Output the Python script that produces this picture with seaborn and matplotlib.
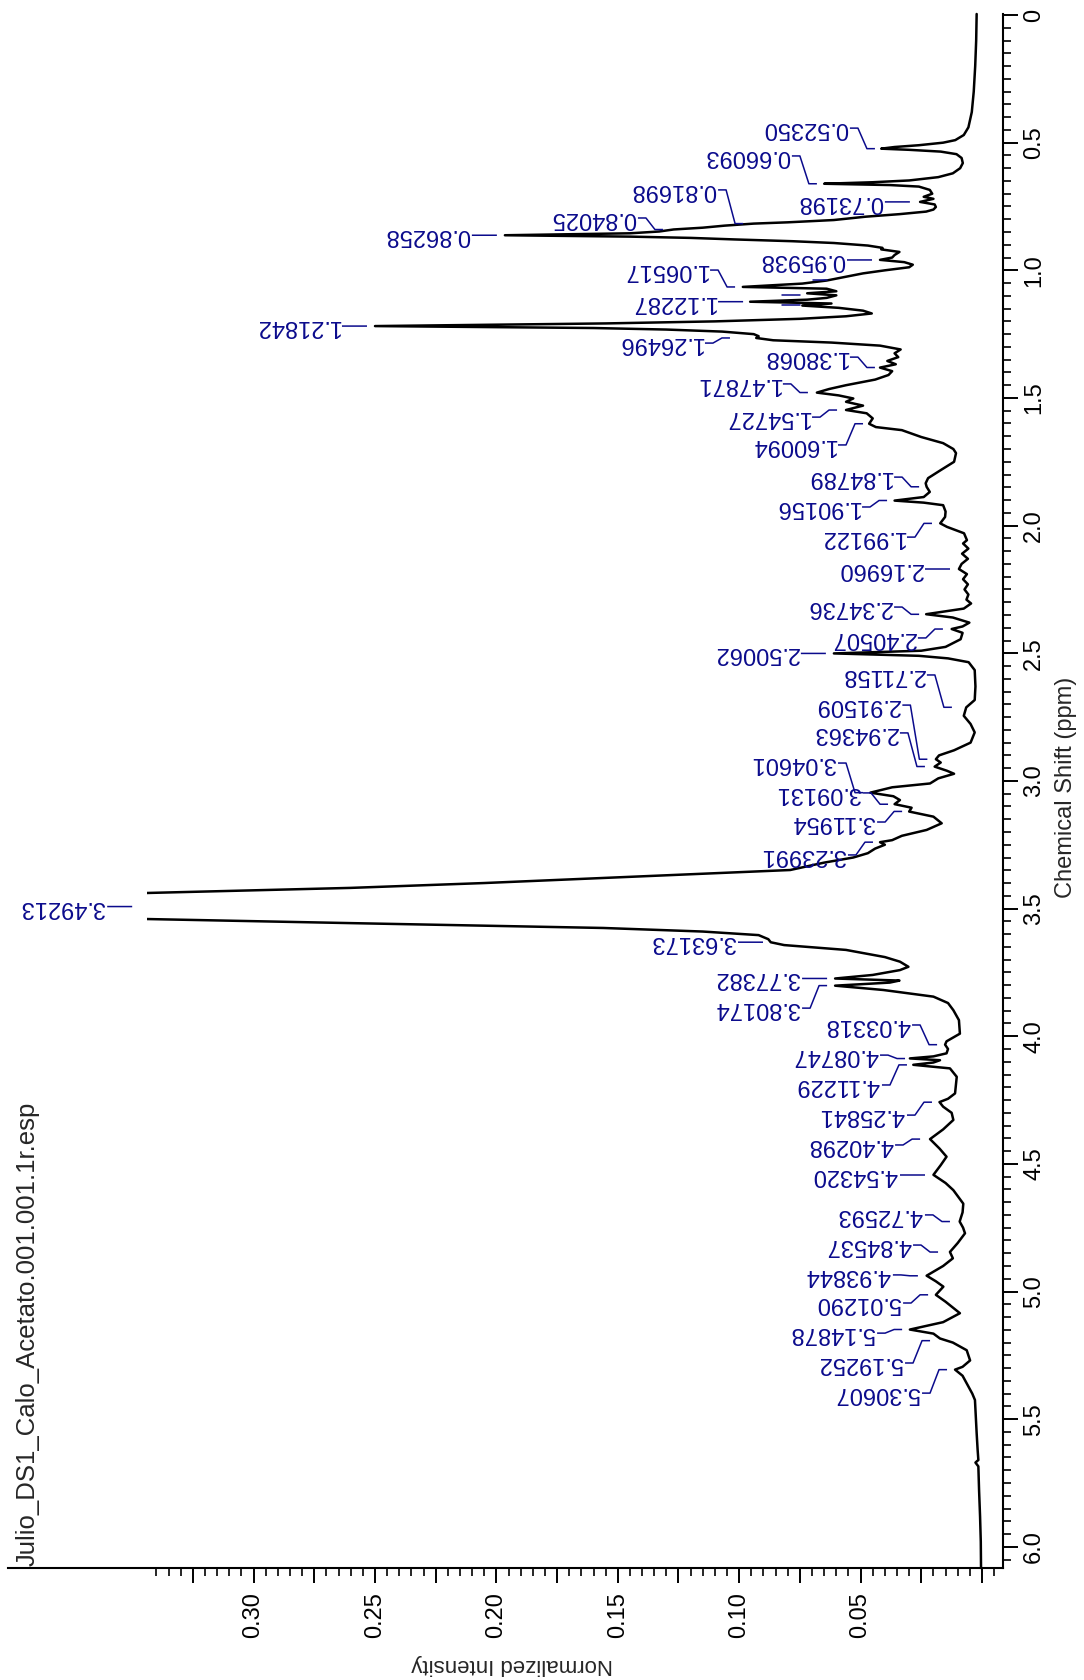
"""
1H NMR spectrum (rotated layout) - Julio_DS1_Calo_Acetato.
"""
import numpy as np
import matplotlib
matplotlib.use('Agg')
import matplotlib.pyplot as plt
from matplotlib.patches import Rectangle
from matplotlib.ticker import FixedLocator
import seaborn as sns

sns.set_style('ticks')
plt.rcParams['font.family'] = ['Liberation Sans', 'DejaVu Sans']

INK  = '#000000'
NAVY = '#0B0B8C'

# spectrum trace: chemical shift (ppm) / normalized intensity
shift_ppm = [
    -0.004, 0.10, 0.20, 0.30, 0.38, 0.44, 0.47, 0.49, 0.50, 0.51, 0.517, 0.5235,
    0.528, 0.535, 0.545, 0.56, 0.58, 0.60, 0.62, 0.635, 0.648, 0.655, 0.6609,
    0.666, 0.672, 0.685, 0.70, 0.712, 0.720, 0.732, 0.742, 0.752, 0.762, 0.770,
    0.780, 0.790, 0.803, 0.812, 0.817, 0.825, 0.833, 0.840, 0.848, 0.855, 0.8626,
    0.868, 0.873, 0.879, 0.886, 0.893, 0.903, 0.912, 0.918, 0.928, 0.940, 0.950,
    0.959, 0.968, 0.978, 0.988, 1.000, 1.012, 1.025, 1.040, 1.052, 1.065, 1.072,
    1.082, 1.090, 1.098, 1.108, 1.115, 1.123, 1.130, 1.138, 1.147, 1.158, 1.169,
    1.180, 1.190, 1.200, 1.208, 1.2184, 1.226, 1.232, 1.240, 1.250, 1.258, 1.265,
    1.274, 1.283, 1.295, 1.310, 1.325, 1.340, 1.355, 1.368, 1.381, 1.395, 1.410,
    1.428, 1.450, 1.465, 1.479, 1.490, 1.502, 1.515, 1.530, 1.547, 1.560, 1.580,
    1.601, 1.614, 1.626, 1.653, 1.677, 1.700, 1.716, 1.750, 1.782, 1.814, 1.834,
    1.848, 1.868, 1.888, 1.902, 1.910, 1.920, 1.945, 1.966, 1.991, 2.005, 2.030,
    2.057, 2.070, 2.090, 2.110, 2.130, 2.150, 2.170, 2.190, 2.210, 2.230, 2.250,
    2.270, 2.290, 2.305, 2.325, 2.347, 2.360, 2.380, 2.395, 2.405, 2.420, 2.445,
    2.475, 2.490, 2.5006, 2.510, 2.520, 2.535, 2.566, 2.630, 2.683, 2.712, 2.745,
    2.777, 2.810, 2.850, 2.880, 2.900, 2.915, 2.928, 2.944, 2.960, 2.972, 2.990,
    3.010, 3.025, 3.046, 3.060, 3.075, 3.091, 3.105, 3.120, 3.140, 3.166, 3.192,
    3.215, 3.232, 3.240, 3.250, 3.265, 3.283, 3.300, 3.320, 3.349, 3.380, 3.400,
    3.419, 3.439, 3.4921, 3.541, 3.557, 3.576, 3.590, 3.604, 3.620, 3.632, 3.643,
    3.662, 3.690, 3.708, 3.728, 3.741, 3.760, 3.774, 3.782, 3.790, 3.802, 3.819,
    3.845, 3.870, 3.898, 3.937, 3.990, 4.020, 4.033, 4.050, 4.067, 4.079, 4.087,
    4.094, 4.103, 4.112, 4.126, 4.159, 4.224, 4.245, 4.258, 4.276, 4.300, 4.328,
    4.365, 4.403, 4.440, 4.472, 4.505, 4.543, 4.575, 4.603, 4.656, 4.690, 4.726,
    4.750, 4.772, 4.810, 4.845, 4.870, 4.900, 4.938, 4.960, 4.981, 5.013, 5.040,
    5.085, 5.120, 5.149, 5.165, 5.184, 5.200, 5.230, 5.270, 5.295, 5.306, 5.330,
    5.360, 5.400, 5.425, 5.500, 5.555, 5.620, 5.660, 5.670, 5.685, 5.780, 5.880,
    5.980, 6.083,
]
intensity = [
    0.0022, 0.0024, 0.0028, 0.0034, 0.0042, 0.0056, 0.0075, 0.0110, 0.0160, 0.0260, 0.0360, 0.0415,
    0.0300, 0.0170, 0.0105, 0.0084, 0.0079, 0.0090, 0.0120, 0.0180, 0.0300, 0.0450, 0.0650,
    0.0380, 0.0260, 0.0215, 0.0205, 0.0240, 0.0200, 0.0255, 0.0195, 0.0190, 0.0200, 0.0230,
    0.0340, 0.0480, 0.0610, 0.0800, 0.0940, 0.1060, 0.1150, 0.1270, 0.1330, 0.1450, 0.1965,
    0.1450, 0.1200, 0.1020, 0.0780, 0.0610, 0.0470, 0.0410, 0.0415, 0.0340, 0.0360, 0.0370,
    0.0420, 0.0320, 0.0285, 0.0300, 0.0400, 0.0490, 0.0560, 0.0640, 0.0740, 0.0985, 0.0640,
    0.0600, 0.0720, 0.0600, 0.0640, 0.0720, 0.0955, 0.0620, 0.0740, 0.0590, 0.0490, 0.0454,
    0.0560, 0.0750, 0.1100, 0.1550, 0.2500, 0.1600, 0.1300, 0.1070, 0.0940, 0.0920, 0.0930,
    0.0860, 0.0620, 0.0420, 0.0335, 0.0360, 0.0345, 0.0390, 0.0355, 0.0420, 0.0370, 0.0385,
    0.0440, 0.0560, 0.0630, 0.0680, 0.0590, 0.0530, 0.0560, 0.0490, 0.0560, 0.0475, 0.0450,
    0.0465, 0.0437, 0.0330, 0.0250, 0.0160, 0.0118, 0.0107, 0.0115, 0.0169, 0.0222, 0.0232,
    0.0228, 0.0215, 0.0240, 0.0360, 0.0240, 0.0160, 0.0150, 0.0152, 0.0172, 0.0144, 0.0074,
    0.0062, 0.0078, 0.0056, 0.0082, 0.0058, 0.0084, 0.0095, 0.0062, 0.0078, 0.0058, 0.0072,
    0.0056, 0.0064, 0.0045, 0.0075, 0.0230, 0.0120, 0.0052, 0.0080, 0.0125, 0.0080, 0.0088,
    0.0150, 0.0250, 0.0610, 0.0260, 0.0140, 0.0055, 0.0030, 0.0027, 0.0030, 0.0065, 0.0075,
    0.0047, 0.0030, 0.0047, 0.0115, 0.0177, 0.0190, 0.0170, 0.0195, 0.0145, 0.0115, 0.0180,
    0.0214, 0.0370, 0.0460, 0.0365, 0.0338, 0.0360, 0.0290, 0.0300, 0.0200, 0.0166, 0.0228,
    0.0330, 0.0370, 0.0420, 0.0400, 0.0440, 0.0470, 0.0530, 0.0650, 0.0790, 0.1560, 0.2050,
    0.2600, 0.3440, 0.4200, 0.3440, 0.2600, 0.1560, 0.1150, 0.0920, 0.0880, 0.0870, 0.0815,
    0.0560, 0.0400, 0.0338, 0.0303, 0.0338, 0.0450, 0.0605, 0.0340, 0.0380, 0.0605, 0.0406,
    0.0200, 0.0140, 0.0118, 0.0095, 0.0091, 0.0146, 0.0152, 0.0140, 0.0146, 0.0200, 0.0297,
    0.0173, 0.0200, 0.0283, 0.0132, 0.0104, 0.0111, 0.0140, 0.0175, 0.0160, 0.0125, 0.0118,
    0.0160, 0.0214, 0.0175, 0.0146, 0.0170, 0.0200, 0.0150, 0.0118, 0.0077, 0.0080, 0.0092,
    0.0078, 0.0070, 0.0100, 0.0132, 0.0120, 0.0160, 0.0228, 0.0190, 0.0159, 0.0190, 0.0150,
    0.0091, 0.0160, 0.0297, 0.0200, 0.0173, 0.0120, 0.0063, 0.0049, 0.0080, 0.0111, 0.0080,
    0.0063, 0.0040, 0.0029, 0.0025, 0.0022, 0.0018, 0.0015, 0.0027, 0.0015, 0.0012, 0.0008,
    0.0005, 0.0004,
]

# peak picking labels: text, where the text sits (ppm), where the leader line stops (intensity)
peak_labels = [
    '0.52350', '0.66093', '0.73198', '0.81698', '0.84025', '0.86258', '0.95938',
    '1.06517', '1.12287', '1.21842', '1.26496', '1.38068', '1.47871', '1.54727',
    '1.60094', '1.84789', '1.90156', '1.99122', '2.16960', '2.34736', '2.40507',
    '2.50062', '2.71158', '2.91509', '2.94363', '3.04601', '3.09131', '3.11954',
    '3.23991', '3.49213', '3.63173', '3.77382', '3.80174', '4.03318', '4.08747',
    '4.11229', '4.25841', '4.40298', '4.54320', '4.72593', '4.84537', '4.93844',
    '5.01290', '5.14878', '5.19252', '5.30607',
]
label_text_ppm = [
    0.443, 0.552, 0.732, 0.685, 0.795, 0.8626, 0.9594,
    0.999, 1.1229, 1.2184, 1.285, 1.340, 1.445, 1.575,
    1.684, 1.810, 1.927, 2.045, 2.1696, 2.319, 2.440,
    2.5006, 2.585, 2.703, 2.812, 2.930, 3.047, 3.161,
    3.290, 3.4921, 3.6317, 3.7738, 3.890, 3.956, 4.074,
    4.191, 4.309, 4.426, 4.5432, 4.700, 4.818, 4.935,
    5.045, 5.163, 5.280, 5.398,
]
label_end_int = [
    0.0441, 0.0680, 0.0297, 0.0984, 0.1314, 0.1998, 0.0453,
    0.1017, 0.0984, 0.2533, 0.1038, 0.0441, 0.0717, 0.0597,
    0.0490, 0.0259, 0.0391, 0.0206, 0.0132, 0.0259, 0.0161,
    0.0643, 0.0124, 0.0225, 0.0235, 0.0490, 0.0387, 0.0329,
    0.0449, 0.3500, 0.0902, 0.0638, 0.0638, 0.0185, 0.0317,
    0.0309, 0.0206, 0.0255, 0.0235, 0.0132, 0.0181, 0.0264,
    0.0222, 0.0329, 0.0214, 0.0144,
]

# small unlabelled peak marks near 1.1 ppm
dash_ppm = [1.038, 1.097, 1.136]
dash_int_lo = [0.0638, 0.0750, 0.0750]
dash_int_hi = [0.0696, 0.0824, 0.0824]

shift_ticks = [0.0, 0.5, 1.0, 1.5, 2.0, 2.5, 3.0, 3.5, 4.0, 4.5, 5.0, 5.5, 6.0]
shift_tick_labels = ['0', '0.5', '1.0', '1.5', '2.0', '2.5', '3.0', '3.5',
                     '4.0', '4.5', '5.0', '5.5', '6.0']
int_ticks = [0.0, 0.025, 0.05, 0.075, 0.10, 0.125, 0.15, 0.175, 0.20,
             0.225, 0.25, 0.275, 0.30, 0.325]
int_tick_labels = ['', '', '0.05', '', '0.10', '', '0.15', '', '0.20',
                   '', '0.25', '', '0.30', '']
file_title = 'Julio_DS1_Calo_Acetato.001.001.1r.esp'

# ---- layout (pixel geometry of a 1084 x 1680 canvas) ----
W, H = 1084, 1680
PX_I = 1 / 2428.0          # intensity per pixel
CLIP_I = 0.344             # top of the visible intensity range

fig = plt.figure(figsize=(W / 100, H / 100), dpi=100, facecolor='white')
ax = fig.add_axes([8 / W, 1 - 1568 / H, 995 / W, 1554 / H])
ax.set_facecolor('white')

sns.lineplot(x=intensity, y=shift_ppm, sort=False, estimator=None,
             color=INK, linewidth=1.8, ax=ax)
clip = Rectangle((-0.05, -1), 0.05 + CLIP_I, 10, transform=ax.transData)
ax.lines[0].set_clip_path(clip)

ax.set_xlim(0.40115, -0.00865)
ax.set_ylim(6.083, -0.004)
ax.set_xlabel('')
ax.set_ylabel('')

# peak labels with MestReNova-style leaders
for lbl, yt, xe in zip(peak_labels, label_text_ppm, label_end_int):
    yp = float(lbl)
    xs = [xe + 25 * PX_I, xe + 17 * PX_I, xe + 8 * PX_I, xe]
    ys = [yt, yt, yp, yp]
    ax.plot(xs, ys, color=NAVY, lw=1.1, solid_capstyle='butt')
    ax.text(xe + 27 * PX_I, yt, lbl, rotation=180, ha='right', va='center',
            fontsize=17, color=NAVY)

for y, lo, hi in zip(dash_ppm, dash_int_lo, dash_int_hi):
    ax.plot([lo, hi], [y, y], color=NAVY, lw=1.1)

# axes styling
for side in ['left', 'top']:
    ax.spines[side].set_visible(False)
for side in ['right', 'bottom']:
    ax.spines[side].set_linewidth(1.5)
    ax.spines[side].set_color(INK)

ax.yaxis.tick_right()
ax.set_yticks(shift_ticks)
ax.set_yticklabels(shift_tick_labels, rotation=90, va='center', ha='left')
ax.yaxis.set_minor_locator(FixedLocator(np.arange(0, 6.051, 0.05)))
ax.tick_params(axis='y', which='major', direction='out', length=10.5, width=1.4,
               pad=4, labelsize=17, right=True, left=False, colors=INK)
ax.tick_params(axis='y', which='minor', direction='out', length=5.5, width=1.4,
               right=True, left=False)

ax.set_xticks(int_ticks)
ax.set_xticklabels(int_tick_labels, rotation=90, va='top', ha='center')
ax.xaxis.set_minor_locator(FixedLocator(np.arange(-0.005, 0.3401, 0.005)))
ax.tick_params(axis='x', which='major', direction='out', length=10.5, width=1.4,
               pad=7, labelsize=17, colors=INK)
ax.tick_params(axis='x', which='minor', direction='out', length=5.5, width=1.4)

fig.text(1066 / W, 1 - 787 / H, 'Chemical Shift (ppm)', rotation=90,
         ha='center', va='center', fontsize=17)
fig.text(512 / W, 1 - 1665 / H, 'Normalized Intensity', rotation=180,
         ha='center', va='center', fontsize=16)
fig.text(28 / W, 1 - 1566 / H, file_title, rotation=90,
         ha='center', va='bottom', fontsize=18.5)

fig.savefig('out.png', dpi=100, facecolor='white')
